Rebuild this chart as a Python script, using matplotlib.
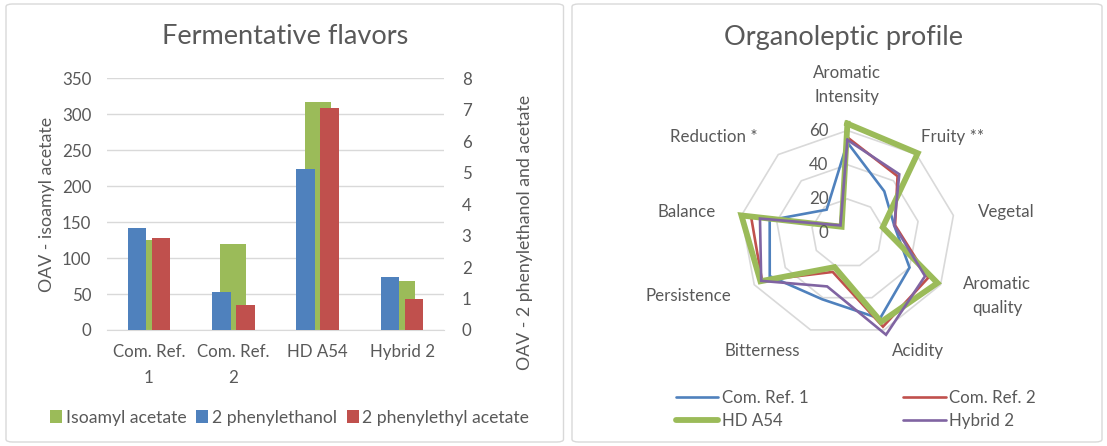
import numpy as np
import matplotlib
matplotlib.use("Agg")
import matplotlib.pyplot as plt
from matplotlib.patches import FancyBboxPatch, Patch
from matplotlib.lines import Line2D
from matplotlib.transforms import offset_copy

plt.rcParams['font.family'] = ['Lato', 'DejaVu Sans']

# ---------------- data ----------------
bar_categories = ["Com. Ref.\n1", "Com. Ref.\n2", "HD A54", "Hybrid 2"]
isoamyl_acetate = [125, 120, 317, 68]          # left axis
phenylethanol = [3.25, 1.21, 5.11, 1.68]        # right axis
phenylethyl_acetate = [2.91, 0.80, 7.07, 1.00]  # right axis

radar_attributes = ["Aromatic\nIntensity", "Fruity **", "Vegetal", "Aromatic\nquality",
                    "Acidity", "Bitterness", "Persistence", "Balance", "Reduction *"]
com_ref_1 = [53, 32, 26.5, 40, 53, 41, 50, 44, 18]
com_ref_2 = [56, 43.5, 27, 52, 58, 24, 55, 54.5, 6]
hd_a54 = [64, 61, 20, 58, 55, 21, 56, 60, 5]
hybrid_2 = [54.5, 45, 26.5, 50, 63, 33, 55.5, 49.5, 6]

left_ticks = [0, 50, 100, 150, 200, 250, 300, 350]
right_ticks = [0, 1, 2, 3, 4, 5, 6, 7, 8]
radar_ticks = [0, 20, 40, 60]

GREEN = '#9BBB59'
BLUE = '#4F81BD'
RED = '#C0504D'
PURPLE = '#8064A2'
TXT = '#595959'
GRID = '#D9D9D9'

FS = 12.2
W, H = 1107, 446
fig = plt.figure(figsize=(W / 100, H / 100), dpi=100)


def fx(px):
    return px / W


def fy(py):
    return 1 - py / H


# panel borders
for (x0, x1) in [(6, 563.5), (572, 1102)]:
    fig.patches.append(FancyBboxPatch((fx(x0), fy(442)), fx(x1 - x0), (438) / H,
                                      boxstyle="round,pad=0,rounding_size=0.006",
                                      transform=fig.transFigure, fill=False,
                                      edgecolor=GRID, linewidth=1.0))

# ---------------- bar chart ----------------
ax1 = fig.add_axes([fx(106.7), fy(330), fx(444.3 - 106.7), (330 - 78.3) / H])
x = np.arange(len(bar_categories))
ax1.bar(x, isoamyl_acetate, width=0.308, color=GREEN, zorder=2)
ax1.set_ylim(0, 350)
ax1.set_xlim(-0.5, len(bar_categories) - 0.5)
ax1.set_yticks(left_ticks)
ax1.yaxis.grid(True, color=GRID, linewidth=1.0, zorder=0)
ax1.set_axisbelow(True)
ax1.set_xticks(x)
ax1.set_xticklabels(bar_categories, linespacing=1.75)
for s in ['top', 'left', 'right']:
    ax1.spines[s].set_visible(False)
ax1.spines['bottom'].set_color(GRID)
ax1.tick_params(axis='both', length=0, colors=TXT, labelsize=FS)
ax1.tick_params(axis='x', pad=10)
ax1.tick_params(axis='y', pad=11)

ax2 = ax1.twinx()
ax2.bar(x - 0.142, phenylethanol, width=0.222, color=BLUE, zorder=3)
ax2.bar(x + 0.142, phenylethyl_acetate, width=0.222, color=RED, zorder=3)
ax2.set_ylim(0, 8)
ax2.set_yticks(right_ticks)
for s in ['top', 'left', 'right', 'bottom']:
    ax2.spines[s].set_visible(False)
ax2.tick_params(axis='y', length=0, colors=TXT, labelsize=FS, pad=12.5)

fig.text(fx(47), fy(204), "OAV - isoamyl acetate", rotation=90, ha='center', va='center',
         color=TXT, fontsize=12.8)
fig.text(fx(525), fy(232), "OAV - 2 phenylethanol and acetate", rotation=90, ha='center',
         va='center', color=TXT, fontsize=12.8)
fig.text(fx(285.3), fy(37), "Fermentative flavors", ha='center', va='center', color=TXT,
         fontsize=19.5)

bar_handles = [Patch(facecolor=GREEN), Patch(facecolor=BLUE), Patch(facecolor=RED)]
fig.legend(bar_handles, ["Isoamyl acetate", "2 phenylethanol", "2 phenylethyl acetate"],
           loc='center', bbox_to_anchor=(fx(289.5), fy(417.5)), ncol=3, frameon=False,
           handlelength=0.7, handleheight=0.7, handletextpad=0.2, columnspacing=0.55,
           labelcolor=TXT, fontsize=12.7)

# ---------------- radar chart ----------------
cx, cy = 847.4, 233.3
rh, rv = 107.6, 102.8
axr = fig.add_axes([fx(cx - rh), fy(cy + rv), fx(2 * rh), 2 * rv / H], projection='polar')
axr.set_aspect('auto')
axr.set_theta_zero_location('N')
axr.set_theta_direction(-1)
axr.set_ylim(0, 60)
axr.grid(False)
axr.spines['polar'].set_visible(False)
axr.set_xticks([])
axr.set_yticks([])
axr.patch.set_visible(False)

n = len(radar_attributes)
theta = np.arange(n) * 2 * np.pi / n
theta_c = np.append(theta, theta[0])

for r in radar_ticks[1:]:
    axr.plot(theta_c, [r] * (n + 1), color=GRID, linewidth=1.2, zorder=1, clip_on=False)

series = [(com_ref_1, BLUE, 1.9, "Com. Ref. 1"),
          (com_ref_2, RED, 1.9, "Com. Ref. 2"),
          (hd_a54, GREEN, 4.2, "HD A54"),
          (hybrid_2, PURPLE, 1.9, "Hybrid 2")]
for vals, col, lw, name in series:
    v = np.append(vals, vals[0])
    axr.plot(theta_c, v, color=col, linewidth=lw, solid_joinstyle='miter', zorder=3,
             clip_on=False)

lab_tr = offset_copy(axr.transData, fig=fig, x=-19, y=0, units='dots')
for t in radar_ticks:
    axr.text(0, t, str(t), transform=lab_tr, ha='right', va='center', color=TXT,
             fontsize=FS, zorder=4)

# category label positions (angle in degrees, radius in data units)
label_pos = [(0, 86.6), (46.3, 81.4), (82, 89.4), (113.7, 91.1), (150.2, 79.2),
             (214.7, 83.6), (247.6, 96.1), (277.9, 90.4), (307.1, 93.2)]
for name, (ang, rad) in zip(radar_attributes, label_pos):
    axr.text(np.deg2rad(ang), rad, name, ha='center', va='center', color=TXT,
             fontsize=FS, linespacing=1.6, clip_on=False)

fig.text(fx(843), fy(37), "Organoleptic profile", ha='center', va='center', color=TXT,
         fontsize=19.5)

h = {name: Line2D([0], [0], color=col, linewidth=lw, solid_capstyle='round')
     for vals, col, lw, name in series}
order = ["Com. Ref. 1", "HD A54", "Com. Ref. 2", "Hybrid 2"]
fig.legend([h[o] for o in order], order, loc='center', bbox_to_anchor=(fx(856), fy(409.5)),
           ncol=2, frameon=False, handlelength=2.5, handletextpad=0.2, columnspacing=5.6,
           labelspacing=0.45, labelcolor=TXT, fontsize=FS)

fig.savefig("out.png", dpi=100)
